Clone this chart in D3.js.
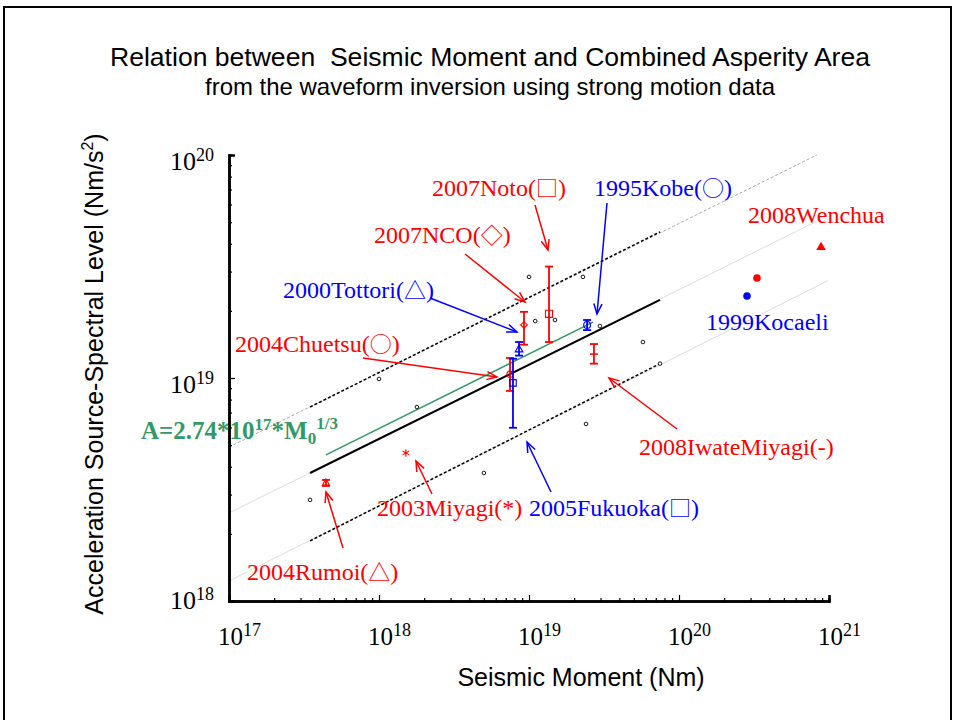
<!DOCTYPE html>
<html>
<head>
<meta charset="utf-8">
<script src="https://cdn.jsdelivr.net/npm/d3@7"></script>
<style>
  html, body { margin: 0; padding: 0; background: #fff; }
  svg { display: block; }
  .sans { font-family: "Liberation Sans", Arial, sans-serif; white-space: pre; }
  .serif { font-family: "Liberation Serif", "Times New Roman", serif; }
  .sym { font-family: "Noto Sans CJK JP", "Noto Sans CJK SC", sans-serif; }
</style>
</head>
<body>
<svg id="chart" width="955" height="720"></svg>
<script>
// ---- tick values ----
const xTicks = [1e17, 1e18, 1e19, 1e20, 1e21];
const yTicks = [1e18, 1e19, 1e20];

// ---- other events (small open circles) ----
const otherM0 = [3.47e17, 1.0e18, 1.79e18, 5.0e18, 1.0e19, 2.29e19, 1.1e19, 1.49e19, 2.97e19, 5.75e19, 7.47e19, 2.4e19];
const otherA  = [2.84e18, 9.9e18, 7.41e18, 3.75e18, 2.84e19, 2.84e19, 1.80e19, 1.82e19, 1.71e19, 1.45e19, 1.16e19, 6.22e18];

// ---- inverted events: seismic moment, spectral level and error range ----
const eventNames = ["2004Rumoi", "2003Miyagi", "2004Chuetsu", "2005Fukuoka", "2000Tottori", "2007NCO",
                    "2007Noto", "1995Kobe", "2008IwateMiyagi", "1999Kocaeli", "2008Wenchuan-b", "2008Wenchuan"];
const eventM0  = [4.43e17, 1.51e18, 7.47e18, 7.82e18, 8.58e18, 9.26e18, 1.36e19, 2.44e19, 2.71e19, 2.84e20, 3.31e20, 8.85e20];
const eventA   = [3.38e18, 4.61e18, 1.04e19, 9.51e18, 1.34e19, 1.73e19, 1.94e19, 1.73e19, 1.28e19, 2.33e19, 2.81e19, 3.86e19];
const eventAlo = [3.28e18, null, 8.75e18, 5.98e18, 1.26e19, 1.41e19, 1.45e19, 1.64e19, 1.16e19, null, null, null];
const eventAhi = [3.49e18, null, 1.23e19, 1.22e19, 1.45e19, 1.98e19, 3.16e19, 1.82e19, 1.42e19, null, null, null];

// ---- scaling relations [M0, A] ----
const meanLine     = [[3.47e17, 3.75e18], [7.47e19, 2.24e19]];
const meanLineExt  = [[1e17, 2.48e18], [8.3e20, 5.05e19]];
const upperLine    = [[3.47e17, 7.41e18], [7.47e19, 4.52e19]];
const upperLineExt = [[1e17, 4.9e18], [8.3e20, 1.0e20]];
const lowerLine    = [[3.47e17, 1.86e18], [7.47e19, 1.16e19]];
const lowerLineExt = [[1e17, 1.23e18], [9.84e20, 2.73e19]];
const greenLine    = [[4.43e17, 4.52e18], [2.67e19, 1.78e19]];

// ---- marker styles per event ----
const RED = "#ff0000", BLUE = "#0000ff", GREEN = "#339966";
const eventStyle = {
  "2004Rumoi":       { sym: d3.symbolTriangle, size: 22, color: RED,  fill: false },
  "2003Miyagi":      { sym: d3.symbolAsterisk, size: 40, color: RED,  fill: false },
  "2004Chuetsu":     { sym: d3.symbolCircle,   size: 30, color: RED,  fill: false },
  "2005Fukuoka":     { sym: d3.symbolSquare,   size: 42, color: BLUE, fill: false },
  "2000Tottori":     { sym: d3.symbolTriangle, size: 26, color: BLUE, fill: false },
  "2007NCO":         { sym: d3.symbolDiamond2, size: 28, color: RED,  fill: false },
  "2007Noto":        { sym: d3.symbolSquare,   size: 50, color: RED,  fill: false },
  "1995Kobe":        { sym: d3.symbolCircle,   size: 36, color: BLUE, fill: false },
  "2008IwateMiyagi": { sym: "dash",            size: 0,  color: RED,  fill: false },
  "1999Kocaeli":     { sym: d3.symbolCircle,   size: 45, color: BLUE, fill: true },
  "2008Wenchuan-b":  { sym: d3.symbolCircle,   size: 45, color: RED,  fill: true },
  "2008Wenchuan":    { sym: d3.symbolTriangle, size: 40, color: RED,  fill: true }
};

// ---- annotation layout: label (name + marker glyph), baseline and arrow in pixels ----
const annotations = [
  { text: "2007Noto",        mark: "□", color: RED,  x: 432, y: 196, from: [535, 205], to: [548, 250] },
  { text: "1995Kobe",        mark: "○", color: BLUE, x: 594, y: 196, from: [607, 203], to: [597, 314] },
  { text: "2008Wenchua",     mark: null, color: RED, x: 748, y: 223, from: null, to: null },
  { text: "2007NCO",         mark: "◇", color: RED,  x: 374, y: 243, from: [465, 254], to: [525, 302] },
  { text: "2000Tottori",     mark: "△", color: BLUE, x: 283, y: 298, from: [430, 298], to: [517, 332] },
  { text: "1999Kocaeli",     mark: null, color: BLUE, x: 706, y: 330, from: null, to: null },
  { text: "2004Chuetsu",     mark: "○", color: RED,  x: 235, y: 352, from: [363, 358], to: [497, 377] },
  { text: "2008IwateMiyagi", mark: "-", color: RED,  x: 639, y: 455, from: [677, 429], to: [609, 378] },
  { text: "2003Miyagi",      mark: "*", color: RED,  x: 377, y: 516, from: [432, 494], to: [416, 461] },
  { text: "2005Fukuoka",     mark: "□", color: BLUE, x: 529, y: 516, from: [551, 492], to: [527, 442] },
  { text: "2004Rumoi",       mark: "△", color: RED,  x: 247, y: 580, from: [343, 548], to: [326, 492] }
];

const svg = d3.select("#chart");
svg.append("rect").attr("width", 955).attr("height", 720).attr("fill", "#fff");

// slide frame
svg.append("rect").attr("x", 4).attr("y", 7).attr("width", 947).attr("height", 740)
  .attr("fill", "none").attr("stroke", "#000").attr("stroke-width", 2);

const x = d3.scaleLog().domain([1e17, 1e21]).range([229, 829]);
const y = d3.scaleLog().domain([1e18, 1e20]).range([601, 155]);

// titles
svg.append("text").attr("class", "sans").attr("x", 490).attr("y", 66)
  .attr("text-anchor", "middle").attr("font-size", 26).attr("fill", "#000")
  .attr("textLength", 760).attr("lengthAdjust", "spacingAndGlyphs")
  .text("Relation between  Seismic Moment and Combined Asperity Area");
svg.append("text").attr("class", "sans").attr("x", 490).attr("y", 95)
  .attr("text-anchor", "middle").attr("font-size", 24).attr("fill", "#000")
  .attr("textLength", 570).attr("lengthAdjust", "spacingAndGlyphs")
  .text("from the waveform inversion using strong motion data");

// axis titles
svg.append("text").attr("class", "sans").attr("x", 581).attr("y", 686)
  .attr("text-anchor", "middle").attr("font-size", 25).attr("fill", "#000")
  .text("Seismic Moment (Nm)");
const yl = svg.append("text").attr("class", "sans")
  .attr("transform", "translate(103,374) rotate(-90)")
  .attr("text-anchor", "middle").attr("font-size", 25).attr("fill", "#000");
yl.append("tspan").text("Acceleration Source-Spectral Level (Nm/s");
yl.append("tspan").attr("dy", -10).attr("font-size", 16).text("2");
yl.append("tspan").attr("dy", 10).text(")");

// minor tick values
function decadeMinors(lo, hi) {
  const out = [];
  for (let e = lo; e < hi; e++) for (let m = 2; m <= 9; m++) out.push(m * Math.pow(10, e));
  return out;
}

// ---- line relations ----
const line = d3.line().x(d => x(d[0])).y(d => y(d[1]));
const plot = svg.append("g");
plot.append("path").attr("d", line(upperLineExt)).attr("fill", "none")
  .attr("stroke", "#aaa").attr("stroke-width", 1).attr("stroke-dasharray", "3,2");
plot.append("path").attr("d", line(meanLineExt)).attr("fill", "none")
  .attr("stroke", "#ddd").attr("stroke-width", 1);
plot.append("path").attr("d", line(lowerLineExt)).attr("fill", "none")
  .attr("stroke", "#ddd").attr("stroke-width", 1);
plot.append("path").attr("d", line(upperLine)).attr("fill", "none")
  .attr("stroke", "#000").attr("stroke-width", 1.5).attr("stroke-dasharray", "3,2");
plot.append("path").attr("d", line(lowerLine)).attr("fill", "none")
  .attr("stroke", "#000").attr("stroke-width", 1.5).attr("stroke-dasharray", "3,2");
plot.append("path").attr("d", line(meanLine)).attr("fill", "none")
  .attr("stroke", "#000").attr("stroke-width", 2);
plot.append("path").attr("d", line(greenLine)).attr("fill", "none")
  .attr("stroke", GREEN).attr("stroke-width", 1.6);

// ---- axes ----
const xMajor = d3.axisBottom(x).tickValues(xTicks).tickSize(-6).tickFormat("");
const xMinor = d3.axisBottom(x).tickValues(decadeMinors(17, 21)).tickSize(-3).tickFormat("");
const yMajor = d3.axisLeft(y).tickValues(yTicks).tickSize(-6).tickFormat("");
const yMinor = d3.axisLeft(y).tickValues(decadeMinors(18, 20)).tickSize(-3).tickFormat("");

[xMajor, xMinor].forEach(ax => {
  svg.append("g").attr("transform", "translate(0,601)").call(ax)
    .call(g => g.select(".domain").attr("stroke-width", 2.5))
    .call(g => g.selectAll(".tick line").attr("stroke-width", 1.2));
});
[yMajor, yMinor].forEach(ax => {
  svg.append("g").attr("transform", "translate(229,0)").call(ax)
    .call(g => g.select(".domain").attr("stroke-width", 2.5))
    .call(g => g.selectAll(".tick line").attr("stroke-width", 1.2));
});

// tick labels with exponents
function powLabel(sel, v) {
  const e = Math.round(Math.log10(v));
  sel.append("tspan").text("10");
  sel.append("tspan").attr("dy", -9).attr("font-size", 18).text(String(e));
}
xTicks.forEach(v => {
  const t = svg.append("text").attr("class", "serif").attr("x", x(v) - 11).attr("y", 645)
    .attr("font-size", 25).attr("fill", "#000");
  powLabel(t, v);
});
yTicks.forEach((v, i) => {
  const t = svg.append("text").attr("class", "serif").attr("x", 214).attr("y", y(v) + (i === 0 ? 8 : 15))
    .attr("text-anchor", "end").attr("font-size", 26).attr("fill", "#000");
  powLabel(t, v);
});

// ---- other events ----
plot.selectAll("circle.other").data(otherM0).join("circle").attr("class", "other")
  .attr("cx", d => x(d)).attr("cy", (d, i) => y(otherA[i])).attr("r", 1.8)
  .attr("fill", "#fff").attr("stroke", "#000").attr("stroke-width", 0.9);

// ---- inverted events with error bars ----
eventNames.forEach((name, i) => {
  const st = eventStyle[name];
  const cx = x(eventM0[i]), cy = y(eventA[i]);
  const g = plot.append("g");
  if (eventAlo[i] != null) {
    const y0 = y(eventAlo[i]), y1 = y(eventAhi[i]);
    g.append("line").attr("x1", cx).attr("x2", cx).attr("y1", y0).attr("y2", y1)
      .attr("stroke", st.color).attr("stroke-width", 1.8);
    [y0, y1].forEach(yy => g.append("line").attr("x1", cx - 4).attr("x2", cx + 4)
      .attr("y1", yy).attr("y2", yy).attr("stroke", st.color).attr("stroke-width", 1.8));
  }
  if (st.sym === "dash") {
    g.append("line").attr("x1", cx - 4).attr("x2", cx + 4).attr("y1", cy).attr("y2", cy)
      .attr("stroke", st.color).attr("stroke-width", 1.5);
  } else {
    g.append("path").attr("transform", `translate(${cx},${cy})`)
      .attr("d", d3.symbol().type(st.sym).size(st.size)())
      .attr("fill", st.fill ? st.color : "none")
      .attr("stroke", st.color).attr("stroke-width", st.fill ? 0 : 1.1);
  }
});

// ---- annotation labels and arrows ----
function arrow(from, to, color) {
  const g = svg.append("g").attr("stroke", color).attr("stroke-width", 1.5).attr("fill", "none");
  g.append("line").attr("x1", from[0]).attr("y1", from[1]).attr("x2", to[0]).attr("y2", to[1]);
  const ang = Math.atan2(to[1] - from[1], to[0] - from[0]);
  const L = 11, spread = 0.38;
  const p1 = [to[0] - L * Math.cos(ang - spread), to[1] - L * Math.sin(ang - spread)];
  const p2 = [to[0] - L * Math.cos(ang + spread), to[1] - L * Math.sin(ang + spread)];
  g.append("path").attr("d", `M${p1[0]},${p1[1]}L${to[0]},${to[1]}L${p2[0]},${p2[1]}`);
}
annotations.forEach(a => {
  const t = svg.append("text").attr("class", "serif").attr("x", a.x).attr("y", a.y)
    .attr("font-size", 24).attr("fill", a.color);
  t.append("tspan").text(a.text);
  if (a.mark) {
    t.append("tspan").text("(");
    const big = "□○◇△".includes(a.mark);
    t.append("tspan").attr("class", big ? "sym" : null).attr("font-size", big ? 22 : 24).text(a.mark);
    t.append("tspan").text(")");
  }
  if (a.from) arrow(a.from, a.to, a.color);
});

// fitted relation label
const gl = svg.append("text").attr("class", "serif").attr("x", 141).attr("y", 439)
  .attr("font-size", 25).attr("font-weight", "bold").attr("fill", GREEN);
gl.append("tspan").text("A=2.74*10");
gl.append("tspan").attr("dy", -9).attr("font-size", 17).text("17");
gl.append("tspan").attr("dy", 9).text("*M");
gl.append("tspan").attr("dy", 5).attr("font-size", 17).text("0");
gl.append("tspan").attr("dy", -15).attr("font-size", 17).text("1/3");
</script>
</body>
</html>
